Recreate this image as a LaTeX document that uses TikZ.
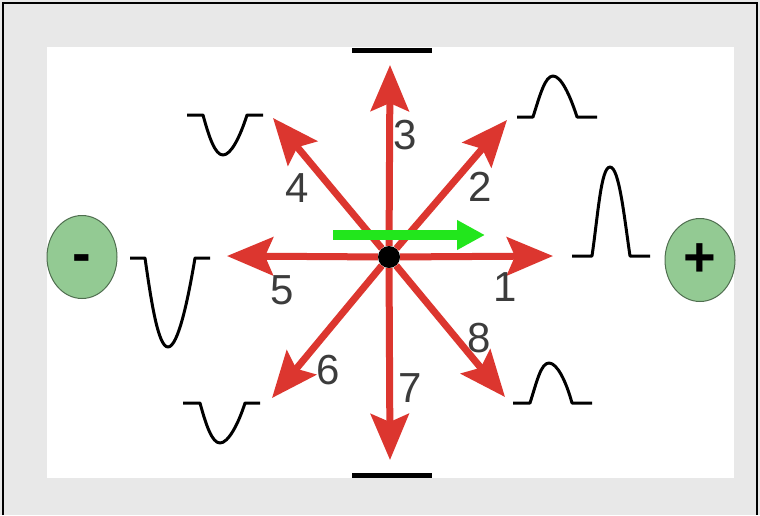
\documentclass[tikz,border=0pt]{standalone}
\usepackage{fontspec}
\setmainfont{Liberation Sans}
\usetikzlibrary{arrows.meta,shapes.geometric}
\definecolor{bgGray}{HTML}{E8E8E8}
\definecolor{dirRed}{HTML}{DC362F}
\definecolor{flowGreen}{HTML}{22E61C}
\definecolor{poleFill}{HTML}{93CA93}
\definecolor{poleEdge}{HTML}{4F6E4F}
\definecolor{numGray}{HTML}{3C3C3C}

\begin{document}
\begin{tikzpicture}[x=1pt, y=-1pt,
  dir/.style={dirRed, line width=7pt, -{Stealth[length=46pt, width=38pt, inset=8pt]}},
  wave/.style={black, line width=3pt, line join=round},
  num/.style={text=numGray, inner sep=0pt, font=\fontsize{42}{42}\selectfont},
  pole/.style={ellipse, draw=poleEdge, line width=1pt, fill=poleFill, minimum width=70pt, minimum height=83pt, inner sep=0pt, font=\bfseries\fontsize{56}{56}\selectfont}]
  \useasboundingbox (0,0) rectangle (760,515);
  \filldraw[fill=bgGray, draw=none] (0,0) rectangle (760,515);
  \fill[white] (47,47) rectangle (734,478);
  \draw[black, line width=2pt] (3,515) -- (3,3) -- (757,3) -- (757,515);

  % centre and arrow ends
  \node[circle, fill=black, minimum size=22pt, inner sep=0pt] (o) at (389,257) {};
  \coordinate (t1) at (553,256);
  \coordinate (t2) at (507,120);
  \coordinate (t3) at (390,65);
  \coordinate (t4) at (273,118);
  \coordinate (t5) at (227,256);
  \coordinate (t6) at (272,398);
  \coordinate (t7) at (390,460);
  \coordinate (t8) at (505,397);
  \draw[dir] (o) -- (t1);
  \draw[dir] (o) -- (t2);
  \draw[dir] (o) -- (t3);
  \draw[dir] (o) -- (t4);
  \draw[dir] (o) -- (t5);
  \draw[dir] (o) -- (t6);
  \draw[dir] (o) -- (t7);
  \draw[dir] (o) -- (t8);

  % movement
  \coordinate (g0) at (333,235);
  \coordinate (g1) at (485,235);
  \draw[flowGreen, line width=10pt, -{Triangle[length=28pt, width=28pt]}] (g0) -- (g1);

  % deflections
  \draw[wave] (572,256) -- (592,256) .. controls (598,215) and (601,167) .. (610,167) .. controls (619,167) and (624,215) .. (630,256) -- (650,256);
  \draw[wave] (517,117) -- (533,117) .. controls (540,95) and (545,76) .. (553,76) .. controls (561,76) and (570,95) .. (577,117) -- (597,117);
  \draw[black, line width=5pt] (352,50) -- (432,50);
  \draw[wave] (187,115) -- (203,115) .. controls (209,137) and (215,155) .. (223,155) .. controls (231,155) and (240,137) .. (247,115) -- (263,115);
  \draw[wave] (130,258) -- (145,258) .. controls (151,300) and (158,347) .. (168,347) .. controls (178,347) and (188,300) .. (195,258) -- (210,258);
  \draw[wave] (183,403) -- (200,403) .. controls (206,425) and (212,443) .. (220,443) .. controls (228,443) and (238,425) .. (245,403) -- (260,403);
  \draw[black, line width=5pt] (352,475) -- (432,475);
  \draw[wave] (513,403) -- (530,403) .. controls (537,381) and (541,363) .. (549,363) .. controls (557,363) and (566,381) .. (572,403) -- (592,403);

  \node[num] (n1) at (505,287) {1};
  \node[num] (n2) at (480,187) {2};
  \node[num] (n3) at (405,135) {3};
  \node[num] (n4) at (297,188) {4};
  \node[num] (n5) at (282,290) {5};
  \node[num] (n6) at (328,370) {6};
  \node[num] (n7) at (410,388) {7};
  \node[num] (n8) at (479,338) {8};

  \node[pole] (neg) at (82,257) {\smash{\raisebox{-0.27em}{-}}};
  \node[pole] (pos) at (700,260) {+};
\end{tikzpicture}
\end{document}
